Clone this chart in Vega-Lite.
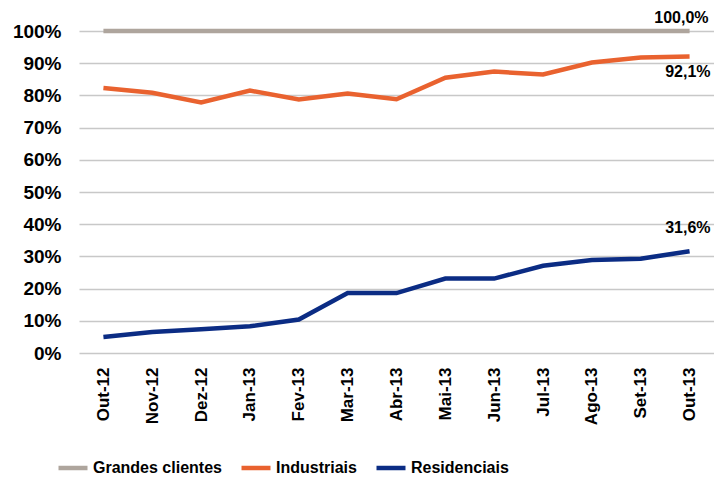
{
  "$schema": "https://vega.github.io/schema/vega-lite/v6.json",
  "autosize": {"type": "none"},
  "width": 635,
  "height": 322,
  "padding": {"left": 79, "top": 31, "right": 0, "bottom": 128},
  "background": "white",
  "config": {
    "view": {"stroke": null},
    "locale": {"number": {"decimal": ",", "thousands": ".", "grouping": [3], "currency": ["R$", ""]}},
    "font": "Liberation Sans"
  },
  "data": {"values": [
    {"mes": "Out-12", "serie": "Grandes clientes", "valor": 1.0},
    {"mes": "Nov-12", "serie": "Grandes clientes", "valor": 1.0},
    {"mes": "Dez-12", "serie": "Grandes clientes", "valor": 1.0},
    {"mes": "Jan-13", "serie": "Grandes clientes", "valor": 1.0},
    {"mes": "Fev-13", "serie": "Grandes clientes", "valor": 1.0},
    {"mes": "Mar-13", "serie": "Grandes clientes", "valor": 1.0},
    {"mes": "Abr-13", "serie": "Grandes clientes", "valor": 1.0},
    {"mes": "Mai-13", "serie": "Grandes clientes", "valor": 1.0},
    {"mes": "Jun-13", "serie": "Grandes clientes", "valor": 1.0},
    {"mes": "Jul-13", "serie": "Grandes clientes", "valor": 1.0},
    {"mes": "Ago-13", "serie": "Grandes clientes", "valor": 1.0},
    {"mes": "Set-13", "serie": "Grandes clientes", "valor": 1.0},
    {"mes": "Out-13", "serie": "Grandes clientes", "valor": 1.0},
    {"mes": "Out-12", "serie": "Industriais", "valor": 0.823},
    {"mes": "Nov-12", "serie": "Industriais", "valor": 0.808},
    {"mes": "Dez-12", "serie": "Industriais", "valor": 0.778},
    {"mes": "Jan-13", "serie": "Industriais", "valor": 0.815},
    {"mes": "Fev-13", "serie": "Industriais", "valor": 0.787},
    {"mes": "Mar-13", "serie": "Industriais", "valor": 0.806},
    {"mes": "Abr-13", "serie": "Industriais", "valor": 0.788},
    {"mes": "Mai-13", "serie": "Industriais", "valor": 0.855},
    {"mes": "Jun-13", "serie": "Industriais", "valor": 0.874},
    {"mes": "Jul-13", "serie": "Industriais", "valor": 0.865},
    {"mes": "Ago-13", "serie": "Industriais", "valor": 0.902},
    {"mes": "Set-13", "serie": "Industriais", "valor": 0.918},
    {"mes": "Out-13", "serie": "Industriais", "valor": 0.921},
    {"mes": "Out-12", "serie": "Residenciais", "valor": 0.050},
    {"mes": "Nov-12", "serie": "Residenciais", "valor": 0.065},
    {"mes": "Dez-12", "serie": "Residenciais", "valor": 0.074},
    {"mes": "Jan-13", "serie": "Residenciais", "valor": 0.083},
    {"mes": "Fev-13", "serie": "Residenciais", "valor": 0.104},
    {"mes": "Mar-13", "serie": "Residenciais", "valor": 0.186},
    {"mes": "Abr-13", "serie": "Residenciais", "valor": 0.186},
    {"mes": "Mai-13", "serie": "Residenciais", "valor": 0.231},
    {"mes": "Jun-13", "serie": "Residenciais", "valor": 0.231},
    {"mes": "Jul-13", "serie": "Residenciais", "valor": 0.271},
    {"mes": "Ago-13", "serie": "Residenciais", "valor": 0.289},
    {"mes": "Set-13", "serie": "Residenciais", "valor": 0.293},
    {"mes": "Out-13", "serie": "Residenciais", "valor": 0.316}
  ]},
  "encoding": {
    "x": {
      "field": "mes", "type": "ordinal", "sort": null,
      "scale": {"type": "point", "padding": 0.5},
      "axis": {
        "title": null, "labelAngle": -90, "labelFont": "Liberation Sans", "labelFontWeight": "bold",
        "labelFontSize": 17, "labelColor": "black", "domain": false, "ticks": false, "grid": false,
        "labelPadding": 14
      }
    },
    "y": {
      "field": "valor", "type": "quantitative",
      "scale": {"domain": [0, 1], "nice": false},
      "axis": {
        "title": null, "format": ".0%", "values": [0, 0.1, 0.2, 0.3, 0.4, 0.5, 0.6, 0.7, 0.8, 0.9, 1.0],
        "labelFont": "Liberation Sans", "labelFontWeight": "bold", "labelFontSize": 19, "labelColor": "black",
        "domain": false, "ticks": false, "gridColor": "#c8c8c8", "gridWidth": 1.5, "labelPadding": 18
      }
    }
  },
  "layer": [
    {
      "mark": {"type": "line", "strokeWidth": 4.5},
      "encoding": {
        "color": {
          "field": "serie", "type": "nominal",
          "scale": {"domain": ["Grandes clientes", "Industriais", "Residenciais"], "range": ["#aea59d", "#e9622f", "#0b2c84"]},
          "legend": {
            "title": null, "orient": "none", "direction": "horizontal", "legendX": -23, "legendY": 420,
            "symbolType": "stroke", "symbolStrokeWidth": 4.5, "symbolSize": 841, "labelFont": "Liberation Sans",
            "labelFontWeight": "bold", "labelFontSize": 16, "labelColor": "black", "columnPadding": 10, "labelOffset": 3
          }
        }
      }
    },
    {
      "transform": [{"filter": "datum.mes === 'Out-13' && datum.serie === 'Grandes clientes'"}],
      "mark": {"type": "text", "align": "right", "dx": 19, "dy": -13, "font": "Liberation Sans", "fontWeight": "bold", "fontSize": 16, "color": "black"},
      "encoding": {"text": {"field": "valor", "type": "quantitative", "format": ".1%"}}
    },
    {
      "transform": [{"filter": "datum.mes === 'Out-13' && datum.serie === 'Industriais'"}],
      "mark": {"type": "text", "align": "right", "dx": 21, "dy": 16, "font": "Liberation Sans", "fontWeight": "bold", "fontSize": 16, "color": "black"},
      "encoding": {"text": {"field": "valor", "type": "quantitative", "format": ".1%"}}
    },
    {
      "transform": [{"filter": "datum.mes === 'Out-13' && datum.serie === 'Residenciais'"}],
      "mark": {"type": "text", "align": "right", "dx": 21, "dy": -23, "font": "Liberation Sans", "fontWeight": "bold", "fontSize": 16, "color": "black"},
      "encoding": {"text": {"field": "valor", "type": "quantitative", "format": ".1%"}}
    }
  ]
}
